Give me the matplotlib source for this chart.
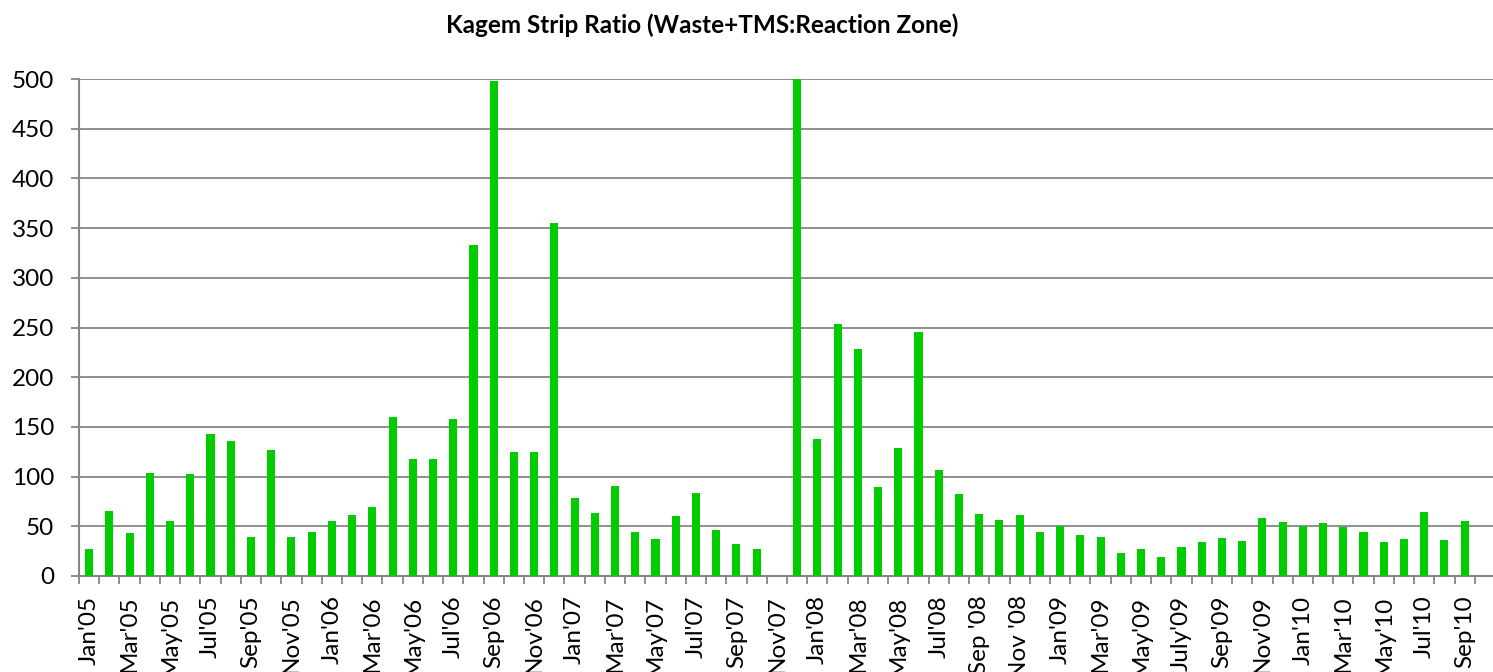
import matplotlib
matplotlib.use("Agg")
import matplotlib.pyplot as plt
import numpy as np

months = ["Jan'05", "Feb'05", "Mar'05", "Apr'05", "May'05", "Jun'05", "Jul'05", "Aug'05",
          "Sep'05", "Oct'05", "Nov'05", "Dec'05",
          "Jan'06", "Feb'06", "Mar'06", "Apr'06", "May'06", "Jun'06", "Jul'06", "Aug'06",
          "Sep'06", "Oct'06", "Nov'06", "Dec'06",
          "Jan'07", "Feb'07", "Mar'07", "Apr'07", "May'07", "Jun'07", "Jul'07", "Aug'07",
          "Sep'07", "Oct'07", "Nov'07", "Dec'07",
          "Jan'08", "Feb'08", "Mar'08", "Apr'08", "May'08", "Jun'08", "Jul'08", "Aug'08",
          "Sep '08", "Oct '08", "Nov '08", "Dec '08",
          "Jan'09", "Feb'09", "Mar'09", "Apr'09", "May'09", "Jun'09", "July'09", "Aug'09",
          "Sep'09", "Oct'09", "Nov'09", "Dec'09",
          "Jan'10", "Feb'10", "Mar'10", "Apr'10", "May'10", "Jun'10", "Jul'10", "Aug'10",
          "Sep'10"]

strip_ratio = [27, 65, 43, 104, 55, 103, 143, 136, 39, 127, 39, 44,
               55, 61, 69, 160, 118, 118, 158, 333, 498, 125, 125, 355,
               78, 63, 91, 44, 37, 60, 83, 46, 32, 27, 0, 500,
               138, 254, 228, 90, 129, 245, 107, 82, 62, 56, 61, 44,
               50, 41, 39, 23, 27, 19, 29, 34, 38, 35, 58, 54,
               50, 53, 49, 44, 34, 37, 64, 36, 55]

yticks = [0, 50, 100, 150, 200, 250, 300, 350, 400, 450, 500]

title = "Kagem Strip Ratio (Waste+TMS:Reaction Zone)"

FONT = ["Lato", "DejaVu Sans"]
plt.rcParams['font.family'] = FONT

W, H = 1493, 672
fig = plt.figure(figsize=(W / 100, H / 100), dpi=100)
ax = fig.add_axes([79 / W, 1 - 576 / H, (W - 79) / W, (576 - 79) / H])

grey = "#868686"
x = np.arange(len(months))
ax.bar(x, strip_ratio, width=0.4, color="#00CC00", zorder=3)

ax.set_ylim(0, 500)
ax.set_xlim(-0.5, len(months) - 0.5 + 0.9)
ax.set_yticks(yticks)
ax.set_yticklabels([str(v) for v in yticks], fontsize=17.5)
ax.yaxis.grid(True, color=grey, linewidth=1.3, zorder=0)
ax.set_axisbelow(True)

# minor ticks at category boundaries, labels every other month
ax.set_xticks(np.arange(-0.5, len(months)), minor=True)
ax.set_xticks(x[::2])
ax.set_xticklabels(months[::2], rotation=90, fontsize=17.5)
ax.tick_params(axis='x', which='major', length=0, pad=14)
ax.tick_params(axis='x', which='minor', length=6, width=1.3, color=grey)
ax.tick_params(axis='y', length=6, width=1.3, color=grey, pad=12)

for s in ["top", "right"]:
    ax.spines[s].set_visible(False)
for s in ["left", "bottom"]:
    ax.spines[s].set_color(grey)
    ax.spines[s].set_linewidth(1.5)

fig.text(702 / W, 1 - 33 / H, title, ha="center", va="baseline",
         fontsize=17.5, fontweight="bold")

fig.savefig("out.png", dpi=100)
